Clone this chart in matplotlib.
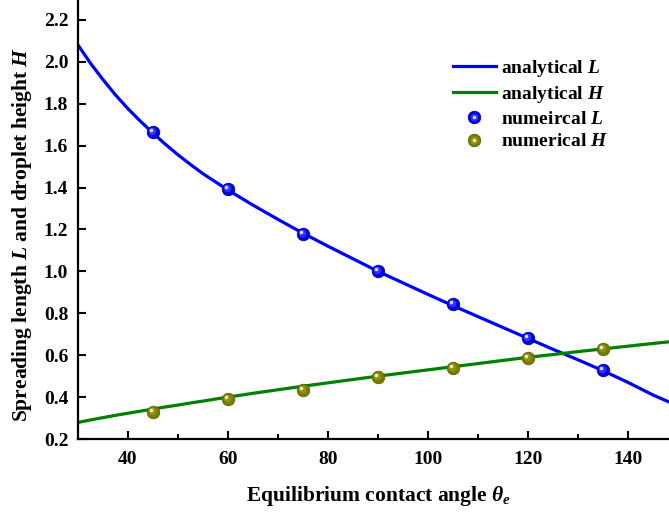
import matplotlib
matplotlib.use("Agg")
import matplotlib.pyplot as plt
from matplotlib.ticker import MultipleLocator, FormatStrFormatter
from matplotlib.transforms import offset_copy
from matplotlib.legend_handler import HandlerTuple

plt.rcParams['font.family'] = 'Liberation Serif'
plt.rcParams['font.weight'] = 'bold'
plt.rcParams['mathtext.fontset'] = 'custom'
plt.rcParams['mathtext.rm'] = 'Liberation Serif:bold'
plt.rcParams['mathtext.it'] = 'Liberation Serif:italic:bold'
plt.rcParams['mathtext.bf'] = 'Liberation Serif:bold'

# analytical curves
theta_line = [30, 32.5, 35, 37.5, 40, 42.5, 45, 47.5, 50, 52.5, 55, 60, 65, 70,
              75, 80, 85, 90, 95, 100, 105, 110, 115, 120, 125, 130, 135,
              140, 145, 150]
L_line = [2.08, 1.993, 1.915, 1.842, 1.776, 1.716, 1.66, 1.606, 1.556, 1.51,
          1.466, 1.388, 1.316, 1.248, 1.182, 1.12, 1.06, 1.0, 0.945, 0.89,
          0.836, 0.784, 0.732, 0.68, 0.628, 0.578, 0.526, 0.47, 0.41, 0.358]
H_line = [0.279, 0.291, 0.302, 0.313, 0.323, 0.333, 0.343, 0.353, 0.362, 0.372,
          0.381, 0.4, 0.418, 0.435, 0.452, 0.468, 0.484, 0.5, 0.515, 0.53,
          0.545, 0.56, 0.575, 0.59, 0.603, 0.617, 0.63, 0.643, 0.656, 0.668]

# numerical points
theta_pts = [45, 60, 75, 90, 105, 120, 135]
L_pts = [1.666, 1.392, 1.180, 1.002, 0.843, 0.681, 0.528]
H_pts = [0.330, 0.391, 0.436, 0.498, 0.541, 0.588, 0.630]

fig = plt.figure(figsize=(6.69, 5.15), dpi=100)
# the original figure is cropped on the right: the axis runs on to 150
ax = fig.add_axes([78/669, 1 - 439/515, 600/669, 439/515])

lL, = ax.plot(theta_line, L_line, color='#0000ff', lw=2.3)
lH, = ax.plot(theta_line, H_line, color='#008000', lw=2.3)

# shaded "ball" markers: body, lighter middle, small highlight up-left
mid = offset_copy(ax.transData, fig=fig, x=-0.8, y=0.8, units='dots')
hl = offset_copy(ax.transData, fig=fig, x=-1.8, y=1.8, units='dots')
mL, = ax.plot(theta_pts, L_pts, 'o', ms=9, color='#0000e0', mec='#0000b0', mew=0.6, zorder=3)
mL1, = ax.plot(theta_pts, L_pts, 'o', ms=5.5, color='#3030ff', mec='none', zorder=4, transform=mid)
mL2, = ax.plot(theta_pts, L_pts, 'o', ms=2.6, color='#d8d8ff', mec='none', zorder=5, transform=hl)
mH, = ax.plot(theta_pts, H_pts, 'o', ms=9, color='#7a7a00', mec='#626200', mew=0.6, zorder=3)
mH1, = ax.plot(theta_pts, H_pts, 'o', ms=5.5, color='#929210', mec='none', zorder=4, transform=mid)
mH2, = ax.plot(theta_pts, H_pts, 'o', ms=2.6, color='#eeeed0', mec='none', zorder=5, transform=hl)

ax.set_xlim(30, 150)
ax.set_ylim(0.2, 2.295)
ax.xaxis.set_major_locator(MultipleLocator(20))
ax.xaxis.set_minor_locator(MultipleLocator(10))
ax.yaxis.set_major_locator(MultipleLocator(0.2))
ax.yaxis.set_major_formatter(FormatStrFormatter('%.1f'))

for s in ['top', 'right']:
    ax.spines[s].set_visible(False)
for s in ['left', 'bottom']:
    ax.spines[s].set_linewidth(1.6)

ax.tick_params(which='major', direction='in', length=6, width=1.5, labelsize=14)
ax.tick_params(which='minor', direction='in', length=3.5, width=1.5)
ax.tick_params(axis='x', which='major', pad=9)
ax.tick_params(axis='y', which='major', pad=7)

ax.set_xlabel(r'Equilibrium contact angle $\theta_e$', fontsize=15.5, fontweight='bold', labelpad=11)
ax.set_ylabel('Spreading length $L$ and droplet height $H$', fontsize=15.5, fontweight='bold')
ax.yaxis.set_label_coords(-0.073, 0.467)

fig.legend([lL, lH, (mL, mL1, mL2), (mH, mH1, mH2)],
           ['analytical $L$', 'analytical $H$', 'numeircal $L$', 'numerical $H$'],
           handler_map={tuple: HandlerTuple(ndivide=1)},
           loc='upper left', bbox_to_anchor=(453/669, 1 - 58/515),
           frameon=False, fontsize=14, borderpad=0, borderaxespad=0,
           handlelength=2.2, handletextpad=0.28, labelspacing=0.26)

fig.savefig('out.png', dpi=100)
